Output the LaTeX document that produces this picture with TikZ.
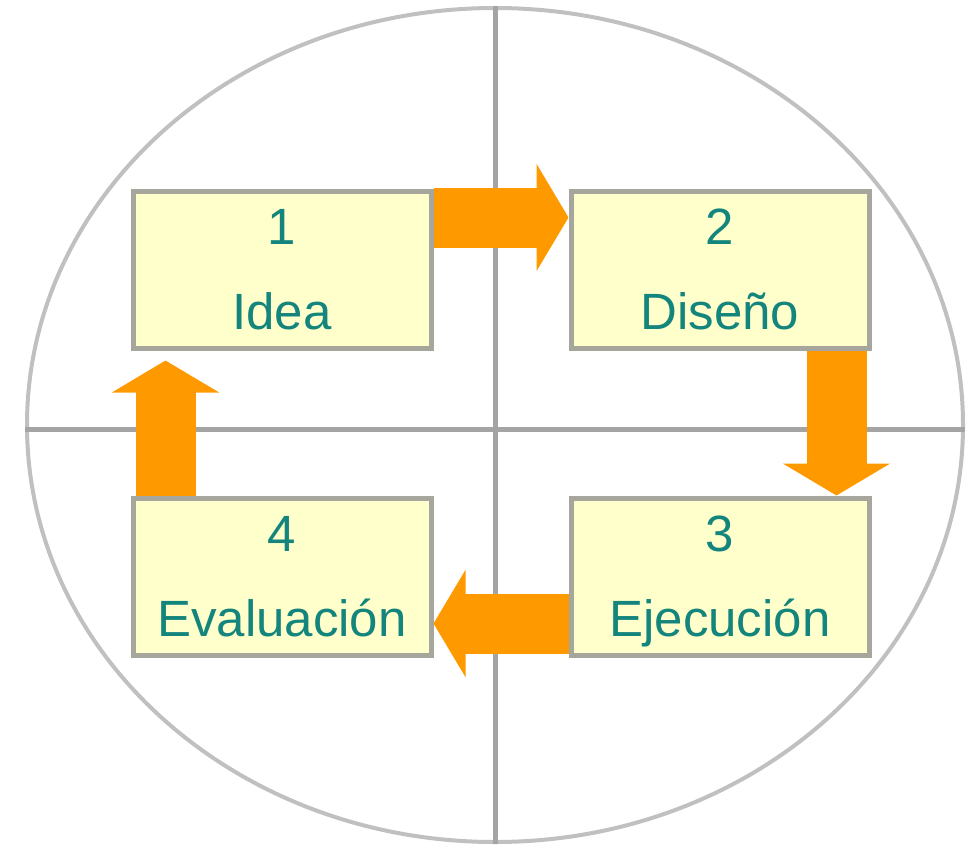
\documentclass[tikz,border=0pt]{standalone}
\usepackage{fontspec}
\setmainfont{Liberation Sans}
\usepackage{tikz}
\usetikzlibrary{arrows.meta,shapes.geometric}
\definecolor{boxfill}{HTML}{FFFFCC}
\definecolor{boxline}{HTML}{A6A69C}
\definecolor{flowcol}{HTML}{FF9900}
\definecolor{labelcol}{HTML}{13857C}
\definecolor{axiscol}{HTML}{A4A4A4}
\definecolor{ringcol}{HTML}{C0C0C0}
\tikzset{
	stage/.style={
		% The shape:
		rectangle,minimum width=298pt,minimum height=157pt,inner sep=0pt,
		% The border:
		line width=5pt,
		draw=boxline,
		% The filling:
		fill=boxfill,
		% The text:
		text=labelcol,align=center,text depth=0pt,
		font=\fontsize{51}{85}\selectfont,
	}}
\tikzset{
	flow/.style={
		% The shaft:
		line width=60pt,draw=flowcol,
		% The head:
		-{Triangle[width=106pt,length=32pt]},
	}}
\tikzset{
	ring/.style={
		ellipse,minimum width=936pt,minimum height=834pt,inner sep=0pt,
		line width=4pt,draw=ringcol,
	},
	axis/.style={line width=5pt,draw=axiscol},
}

\begin{document}
\begin{tikzpicture}[x=1pt,y=-1pt]
				\useasboundingbox (0,0) rectangle (968,846);
				\node[ring] (ring) at (495,425) {};
				\draw[axis] ([yshift=-4pt]ring.west) -- ([yshift=-4pt]ring.east);
				\draw[axis] (ring.north) -- (ring.south);
				\matrix (cycle) at (501,423) [column sep=135pt,row sep=145pt,ampersand replacement=\&]{
					\node[stage] (idea) {1\\Idea};  \&  \node[stage] (diseno) {2\\Diseño}; \\
					\node[stage] (evaluacion) {4\\Evaluación};  \&  \node[stage] (ejecucion) {3\\Ejecución}; \\
				};
				\draw[flow] ([yshift=-29pt]idea.north east) -- ([yshift=-29pt]idea.north east -| diseno.west);
				\draw[flow] ([xshift=-35pt]diseno.south east) -- ([xshift=-35pt]diseno.south east |- ejecucion.north);
				\draw[flow] ([yshift=34pt]ejecucion.south west) -- ([yshift=34pt]ejecucion.south west -| evaluacion.east);
				\draw[flow,shorten >=10pt] ([xshift=35pt]evaluacion.north west) -- ([xshift=35pt]evaluacion.north west |- idea.south);
				\end{tikzpicture}
\end{document}
